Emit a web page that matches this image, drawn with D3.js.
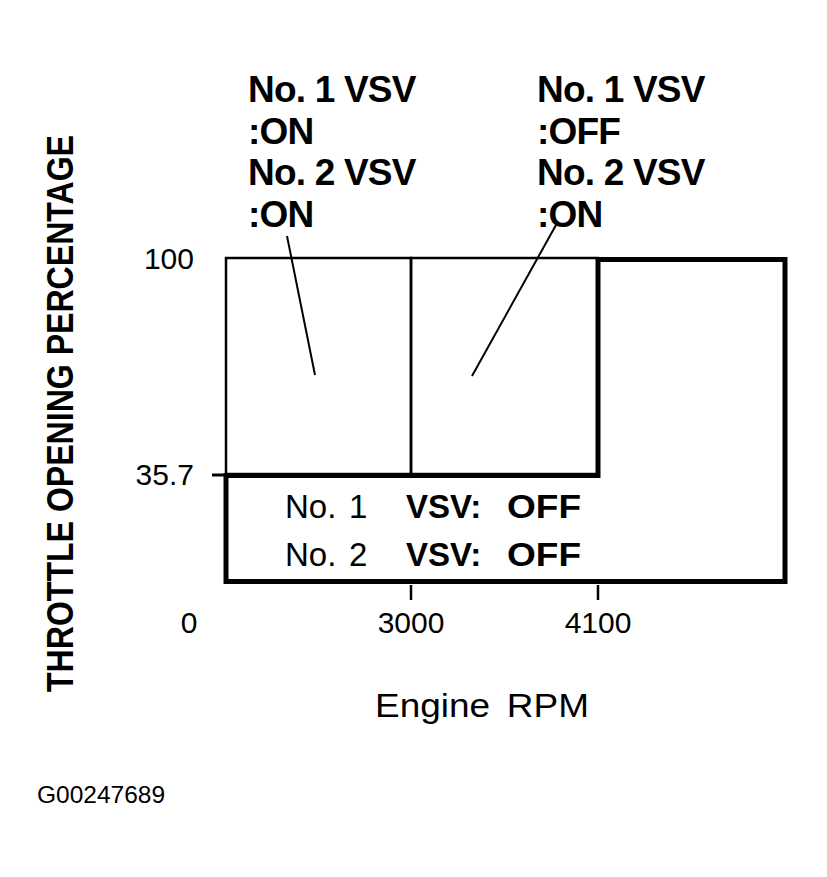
<!DOCTYPE html>
<html>
<head>
<meta charset="utf-8">
<script src="https://cdn.jsdelivr.net/npm/d3@7"></script>
<style>
  body { margin: 0; background: #fff; }
  text { font-family: "Liberation Sans", Arial, Helvetica, sans-serif; fill: #000; }
</style>
</head>
<body>
<div id="chart"></div>
<script>
// rpm breakpoints of the map (last one is the open right edge)
let rpmBreaks = [0, 3000, 4100, 6000]
let rpmTicks = [3000, 4100]
let throttleBreaks = [0, 35.7, 100]
let throttleTicks = [100, 35.7]

// zones: [rpm from, rpm to, throttle from, throttle to]
let upperZones = [[0, 3000, 35.7, 100], [3000, 4100, 35.7, 100]]
// thick outline of the "both off" zone
let offZone = [[0, 35.7], [4100, 35.7], [4100, 100], [6000, 100], [6000, 0], [0, 0]]

let zoneLabels = [
    ['No. 1 VSV', ':ON', 'No. 2 VSV', ':ON'],
    ['No. 1 VSV', ':OFF', 'No. 2 VSV', ':ON']
]
let offLabels = [['No.', '1', 'VSV:', 'OFF'], ['No.', '2', 'VSV:', 'OFF']]

let width = 827, height = 877

let svg = d3.select('#chart').append('svg')
    .attr('width', width)
    .attr('height', height)

let x = d3.scaleLinear().domain(rpmBreaks).range([226, 411, 598, 785])
let y = d3.scaleLinear().domain(throttleBreaks).range([580, 474, 258])

// thin zone boxes
svg.selectAll('.zone')
    .data(upperZones)
    .enter().append('rect')
    .attr('class', 'zone')
    .attr('x', d => x(d[0]))
    .attr('y', d => y(d[3]))
    .attr('width', d => x(d[1]) - x(d[0]))
    .attr('height', d => y(d[2]) - y(d[3]))
    .attr('fill', 'none')
    .attr('stroke', '#000')
    .attr('stroke-width', 2.5)

// thick outline
let line = d3.line().x(d => x(d[0])).y(d => y(d[1]))
svg.append('path')
    .attr('d', line(offZone) + 'Z')
    .attr('fill', 'none')
    .attr('stroke', '#000')
    .attr('stroke-width', 5)
    .attr('stroke-linejoin', 'miter')
    .attr('transform', 'translate(0, 1.5)')

// x ticks
svg.selectAll('.xtick')
    .data(rpmTicks)
    .enter().append('line')
    .attr('x1', d => x(d)).attr('x2', d => x(d))
    .attr('y1', y(0) + 5).attr('y2', y(0) + 20)
    .attr('stroke', '#000')
    .attr('stroke-width', 2.5)

svg.selectAll('.xlabel')
    .data(rpmTicks)
    .enter().append('text')
    .attr('x', d => x(d))
    .attr('y', 633)
    .attr('text-anchor', 'middle')
    .style('font-size', '30px')
    .text(d => d)

// origin label
svg.append('text')
    .attr('x', x(0) - 37)
    .attr('y', 633)
    .attr('text-anchor', 'middle')
    .style('font-size', '30px')
    .text('0')

// y tick (only 35.7 has a mark)
svg.append('line')
    .attr('x1', x(0) - 14).attr('x2', x(0))
    .attr('y1', y(35.7) + 1).attr('y2', y(35.7) + 1)
    .attr('stroke', '#000')
    .attr('stroke-width', 3)

svg.selectAll('.ylabel')
    .data(throttleTicks)
    .enter().append('text')
    .attr('x', 194)
    .attr('y', d => y(d) + 10.5)
    .attr('text-anchor', 'end')
    .style('font-size', '30px')
    .text(d => d)

// zone labels above the map
let labelX = [248, 537]
let labelY = [102, 144, 185, 227]
zoneLabels.forEach((lines, i) => {
    svg.append('g').selectAll('text')
        .data(lines)
        .enter().append('text')
        .attr('x', labelX[i])
        .attr('y', (d, j) => labelY[j])
        .style('font-size', '37px')
        .style('font-weight', 'bold')
        .style('letter-spacing', '-0.8px')
        .text(d => d)
})

// leader lines
let leaders = [[[287, 236], [315, 375]], [[556, 225], [472, 376]]]
svg.selectAll('.leader')
    .data(leaders)
    .enter().append('line')
    .attr('x1', d => d[0][0]).attr('y1', d => d[0][1])
    .attr('x2', d => d[1][0]).attr('y2', d => d[1][1])
    .attr('stroke', '#000')
    .attr('stroke-width', 2)

// labels inside the off zone
let offX = [285, 349, 406, 507]
offLabels.forEach((parts, i) => {
    svg.append('g').selectAll('text')
        .data(parts)
        .enter().append('text')
        .attr('x', (d, j) => offX[j])
        .attr('y', 518 + i * 48)
        .style('font-size', '33px')
        .style('font-weight', (d, j) => j < 2 ? 'normal' : 'bold')
        .attr('textLength', (d, j) => j == 3 ? 74 : null)
        .attr('lengthAdjust', 'spacingAndGlyphs')
        .text(d => d)
})

// axis titles
svg.append('text')
    .attr('transform', 'translate(73, 413.5) rotate(-90)')
    .attr('text-anchor', 'middle')
    .style('font-size', '37px')
    .style('font-weight', 'bold')
    .attr('textLength', 557)
    .attr('lengthAdjust', 'spacingAndGlyphs')
    .text('THROTTLE OPENING PERCENTAGE')

svg.append('text')
    .attr('x', 375)
    .attr('y', 717)
    .style('font-size', '34px')
    .style('word-spacing', '6px')
    .attr('textLength', 214)
    .attr('lengthAdjust', 'spacingAndGlyphs')
    .text('Engine RPM')

svg.append('text')
    .attr('x', 37)
    .attr('y', 803)
    .style('font-size', '24px')
    .attr('textLength', 128)
    .attr('lengthAdjust', 'spacingAndGlyphs')
    .text('G00247689')
</script>
</body>
</html>
